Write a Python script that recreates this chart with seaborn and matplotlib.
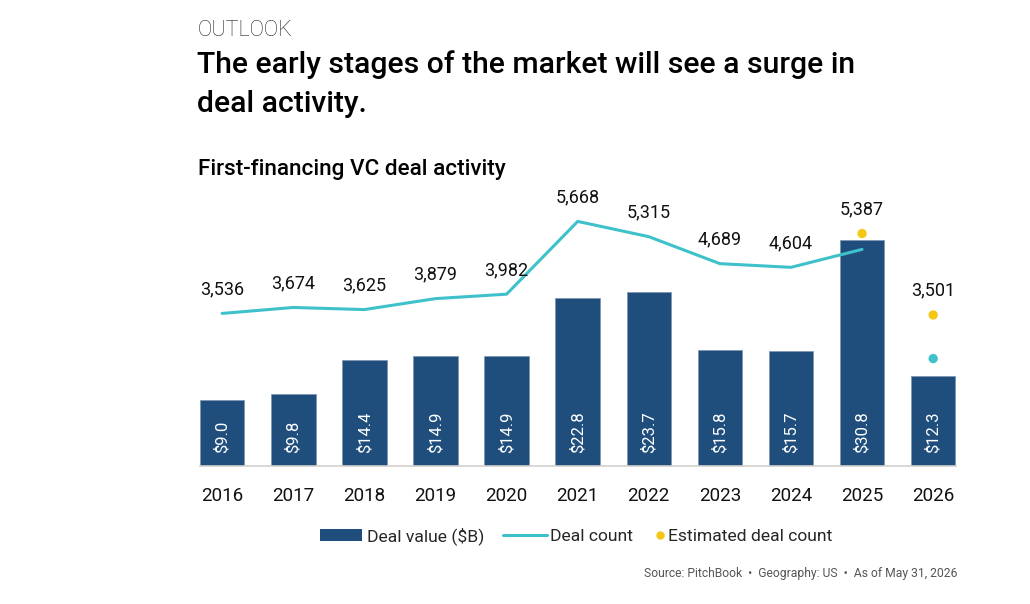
import numpy as np
import pandas as pd
import matplotlib.pyplot as plt
from matplotlib.lines import Line2D
from matplotlib.patches import Patch
import seaborn as sns

############
# Data
############
years = ['2016', '2017', '2018', '2019', '2020', '2021', '2022', '2023', '2024', '2025', '2026']
deal_value = [9.0, 9.8, 14.4, 14.9, 14.9, 22.8, 23.7, 15.8, 15.7, 30.8, 12.3]
deal_count = [3536, 3674, 3625, 3879, 3982, 5668, 5315, 4689, 4604, 5020, 2490]
est_years = ['2025', '2026']
est_count = [5387, 3501]

BAR_COLOR = '#1F4E7D'
LINE_COLOR = '#3EC1CA'
EST_COLOR = '#F5C614'
FONT = 'Roboto'

sns.set_theme(style='white')
plt.rcParams['font.family'] = [FONT, 'DejaVu Sans']

fig = plt.figure(figsize=(10.30, 6.04), dpi=100)
W, H = 1030, 604
ax = fig.add_axes([200 / W, 1 - 466 / H, 755.5 / W, 264.6 / H])

df = pd.DataFrame({'year': years, 'value': deal_value})
sns.barplot(data=df, x='year', y='value', order=years, color=BAR_COLOR,
            width=0.626, saturation=1, edgecolor='#7F97B3', linewidth=0.6, ax=ax)
ax.set_xlim(-0.312, 10.314)
ax.set_ylim(0, 36)

# Bar labels, rotated, at bottom of bar
for i, v in enumerate(deal_value):
    ax.text(i, 1.75, f'${v:.1f}', rotation=90, ha='center', va='bottom',
            color='white', fontsize=12)

# Deal count line on twin axis
ax2 = ax.twinx()
x_pos = np.arange(len(years))
n_line = len(years) - 1
sns.lineplot(x=x_pos[:n_line], y=deal_count[:n_line], color=LINE_COLOR, lw=2.2, ax=ax2)
sns.scatterplot(x=x_pos[n_line:], y=deal_count[n_line:], color=LINE_COLOR, s=45,
                edgecolor='none', ax=ax2, zorder=4)
est_x = [years.index(y) for y in est_years]
sns.scatterplot(x=est_x, y=est_count, color=EST_COLOR, s=45, edgecolor='none', ax=ax2, zorder=4)
ax2.set_ylim(0, 6132)
ax2.set_xlim(-0.312, 10.314)

# Count labels (estimated value shown where there is one)
for i, year in enumerate(years):
    if year in est_years:
        val = est_count[est_years.index(year)]
        y = max(val, deal_count[i])
    else:
        val = deal_count[i]
        y = val
    ax2.annotate(f'{val:,}', (i, y), xytext=(0, 11), textcoords='offset points',
                 ha='center', va='bottom', fontsize=13, color='#111111', clip_on=False)

for a in (ax, ax2):
    for s in ['top', 'right', 'left']:
        a.spines[s].set_visible(False)
    a.set_yticks([])
    a.set_ylabel('')
ax2.spines['bottom'].set_visible(False)
ax.spines['bottom'].set_color('#D3CFCC')
ax.spines['bottom'].set_linewidth(1.2)
ax.set_xlabel('')
ax.tick_params(axis='x', length=0, pad=15, labelsize=13.5, labelcolor='#111111')

# Titles
fig.text(198 / W, 1 - 36 / H, 'OUTLOOK', fontsize=15.5, fontweight='light',
         color='#222222', va='baseline')
fig.text(197 / W, 1 - 73 / H, 'The early stages of the market will see a surge in',
         fontsize=21.7, fontweight='medium', color='#000000', va='baseline')
fig.text(197 / W, 1 - 112 / H, 'deal activity.', fontsize=21.7, fontweight='medium',
         color='#000000', va='baseline')
fig.text(198 / W, 1 - 175 / H, 'First-financing VC deal activity', fontsize=16.2,
         fontweight='medium', color='#000000', va='baseline')

# Legend (three pieces so each key gets its own handle length)
leg_y = 1 - 536 / H
common = dict(loc='center left', frameon=False, fontsize=12.6, borderpad=0,
              borderaxespad=0)
fig.legend([Patch(facecolor=BAR_COLOR, edgecolor='none')], ['Deal value ($B)'],
           bbox_to_anchor=(320 / W, leg_y), handlelength=2.4, handleheight=0.64,
           handletextpad=0.27, **common)
fig.legend([Line2D([0], [0], color=LINE_COLOR, lw=2.2)], ['Deal count'],
           bbox_to_anchor=(503 / W, leg_y), handlelength=2.5, handletextpad=0.2, **common)
fig.legend([Line2D([0], [0], marker='o', color='none', markerfacecolor=EST_COLOR,
                   markeredgecolor='none', markersize=6)], ['Estimated deal count'],
           bbox_to_anchor=(654.5 / W, leg_y), handlelength=0.62, handletextpad=0.17, **common)

fig.text(957 / W, 1 - 577 / H, 'Source: PitchBook  \u2022  Geography: US  \u2022  As of May 31, 2026',
         fontsize=8.7, color='#555555', ha='right', va='baseline')

fig.savefig('out.png', dpi=100)
